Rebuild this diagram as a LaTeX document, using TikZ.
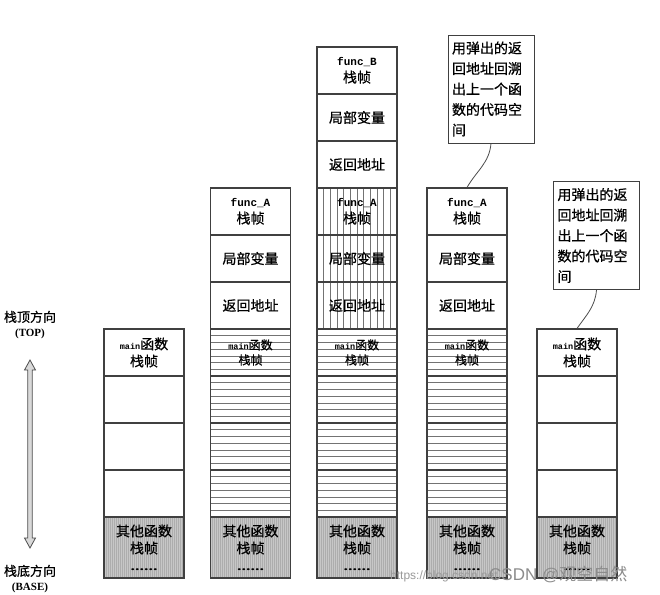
\documentclass[tikz,border=0pt]{standalone}
\usepackage{fontspec}
\usepackage{graphicx}
\setmainfont{Liberation Serif}
\newfontfamily\cjk{Noto Sans CJK SC}[FakeBold=0.7]
\newfontfamily\cjkl{Noto Sans CJK SC}
\newfontfamily\monof{Liberation Mono}
\newfontfamily\wmsans{Liberation Sans}
\usetikzlibrary{arrows.meta}
\newcommand{\fn}[1]{{\monof\bfseries\fontsize{11}{11}\selectfont #1}}
\newcommand{\mn}{{\monof\bfseries\fontsize{8.5}{8.5}\selectfont main}}
\newcommand{\dotsline}{\scalebox{1.5}[1]{\rmfamily\bfseries\fontsize{12}{12}\selectfont ......}}
\tikzset{
 stackcell/.style={draw=black!75, line width=1.1pt, minimum width=80pt, minimum height=47pt,
   inner sep=0pt, align=center, font=\cjk\fontsize{14}{17}\selectfont},
 hhatch/.style={path picture={\foreach \k in {1,...,6}{\draw[black!55,line width=0.7pt]
   ([yshift=-\k*6.714pt]path picture bounding box.north west) -- ([yshift=-\k*6.714pt]path picture bounding box.north east);}}},
 vhatch/.style={path picture={\foreach \k in {1,...,11}{\draw[black!55,line width=0.6pt]
   ([xshift=\k*6.667pt]path picture bounding box.north west) -- ([xshift=\k*6.667pt]path picture bounding box.south west);}}},
 othercell/.style={stackcell, fill=black!22, minimum height=61pt, path picture={\foreach \k in {1,...,39}{\draw[black!32,line width=0.5pt]
   ([xshift=\k*2pt]path picture bounding box.north west) -- ([xshift=\k*2pt]path picture bounding box.south west);}}},
 smallmain/.style={font=\cjk\fontsize{12}{15}\selectfont},
 callout/.style={draw=black!75, line width=0.9pt, minimum width=86pt, minimum height=108pt, text width=78pt,
   inner sep=4pt, align=left, font=\cjk\fontsize{14}{20.5}\selectfont},
 link/.style={draw=black!70, line width=0.8pt},
 sidelabel/.style={align=center, inner sep=0pt, font=\cjk\fontsize{13}{15}\selectfont},
 bigarrow/.style={draw=black!70, line width=0.8pt, fill=black!15},
}
\begin{document}
\begin{tikzpicture}[x=1pt, y=-1pt]
\useasboundingbox (0,0) rectangle (660,594);
\fill[white] (0,0) rectangle (660,594);

% column 1
\node[stackcell] (c1m) at (144,352.5) {\mn 函数\\栈帧};
\node[stackcell] (c1a) at (144,399.5) {};
\node[stackcell] (c1b) at (144,446.5) {};
\node[stackcell] (c1c) at (144,493.5) {};
\node[othercell] (c1o) at (144,547.5) {其他函数\\栈帧\\\dotsline};

% column 2
\node[stackcell] (c2f) at (250.5,211.5) {\fn{func\_A}\\栈帧};
\node[stackcell] (c2l) at (250.5,258.5) {局部变量};
\node[stackcell] (c2r) at (250.5,305.5) {返回地址};
\node[stackcell,hhatch,smallmain] (c2m) at (250.5,352.5) {\mn 函数\\栈帧};
\node[stackcell,hhatch] (c2a) at (250.5,399.5) {};
\node[stackcell,hhatch] (c2b) at (250.5,446.5) {};
\node[stackcell,hhatch] (c2c) at (250.5,493.5) {};
\node[othercell] (c2o) at (250.5,547.5) {其他函数\\栈帧\\\dotsline};

% column 3
\node[stackcell] (c3f) at (357,70.5) {\fn{func\_B}\\栈帧};
\node[stackcell] (c3l) at (357,117.5) {局部变量};
\node[stackcell] (c3r) at (357,164.5) {返回地址};
\node[stackcell,vhatch] (c3af) at (357,211.5) {\fn{func\_A}\\栈帧};
\node[stackcell,vhatch] (c3al) at (357,258.5) {局部变量};
\node[stackcell,vhatch] (c3ar) at (357,305.5) {返回地址};
\node[stackcell,hhatch,smallmain] (c3m) at (357,352.5) {\mn 函数\\栈帧};
\node[stackcell,hhatch] (c3a) at (357,399.5) {};
\node[stackcell,hhatch] (c3b) at (357,446.5) {};
\node[stackcell,hhatch] (c3c) at (357,493.5) {};
\node[othercell] (c3o) at (357,547.5) {其他函数\\栈帧\\\dotsline};

% column 4
\node[stackcell] (c4f) at (467,211.5) {\fn{func\_A}\\栈帧};
\node[stackcell] (c4l) at (467,258.5) {局部变量};
\node[stackcell] (c4r) at (467,305.5) {返回地址};
\node[stackcell,hhatch,smallmain] (c4m) at (467,352.5) {\mn 函数\\栈帧};
\node[stackcell,hhatch] (c4a) at (467,399.5) {};
\node[stackcell,hhatch] (c4b) at (467,446.5) {};
\node[stackcell,hhatch] (c4c) at (467,493.5) {};
\node[othercell] (c4o) at (467,547.5) {其他函数\\栈帧\\\dotsline};

% column 5
\node[stackcell] (c5m) at (577,352.5) {\mn 函数\\栈帧};
\node[stackcell] (c5a) at (577,399.5) {};
\node[stackcell] (c5b) at (577,446.5) {};
\node[stackcell] (c5c) at (577,493.5) {};
\node[othercell] (c5o) at (577,547.5) {其他函数\\栈帧\\\dotsline};

% callouts
\node[callout] (call1) at (491,89) {用弹出的返\\回地址回溯\\出上一个函\\数的代码空\\间};
\node[callout] (call2) at (596.5,235.5) {用弹出的返\\回地址回溯\\出上一个函\\数的代码空\\间};
\draw[link] (call1.south) to[out=-95,in=60] (c4f.north);
\draw[link] (call2.south) to[out=-95,in=55] (c5m.north);

% side labels and arrow
\node[sidelabel] (toplab) at (30,325) {栈顶方向\\{\rmfamily\bfseries\fontsize{11}{11}\selectfont (TOP)}};
\node[sidelabel] (baselab) at (30,579) {栈底方向\\{\rmfamily\bfseries\fontsize{11}{11}\selectfont (BASE)}};
\coordinate (atop) at (30,360);
\coordinate (abot) at (30,548);
\draw[bigarrow] (atop) -- ++(5.5,10) -- ++(-3.3,0) -- ++(0,168) -- ++(3.3,0) -- (abot)
  -- ++(-5.5,-10) -- ++(3.3,0) -- ++(0,-168) -- ++(-3.3,0) -- cycle;

% watermark
\node[anchor=west, inner sep=0pt, text=black!40, font=\wmsans\fontsize{12}{12}\selectfont] (wm1) at (390,576) {https://blog.csdn.net};
\node[anchor=west, inner sep=0pt, text=black!45, font=\wmsans\fontsize{17}{17}\selectfont] (wm2) at (489,574) {CSDN @{\cjkl 观空自然}};
\end{tikzpicture}
\end{document}
